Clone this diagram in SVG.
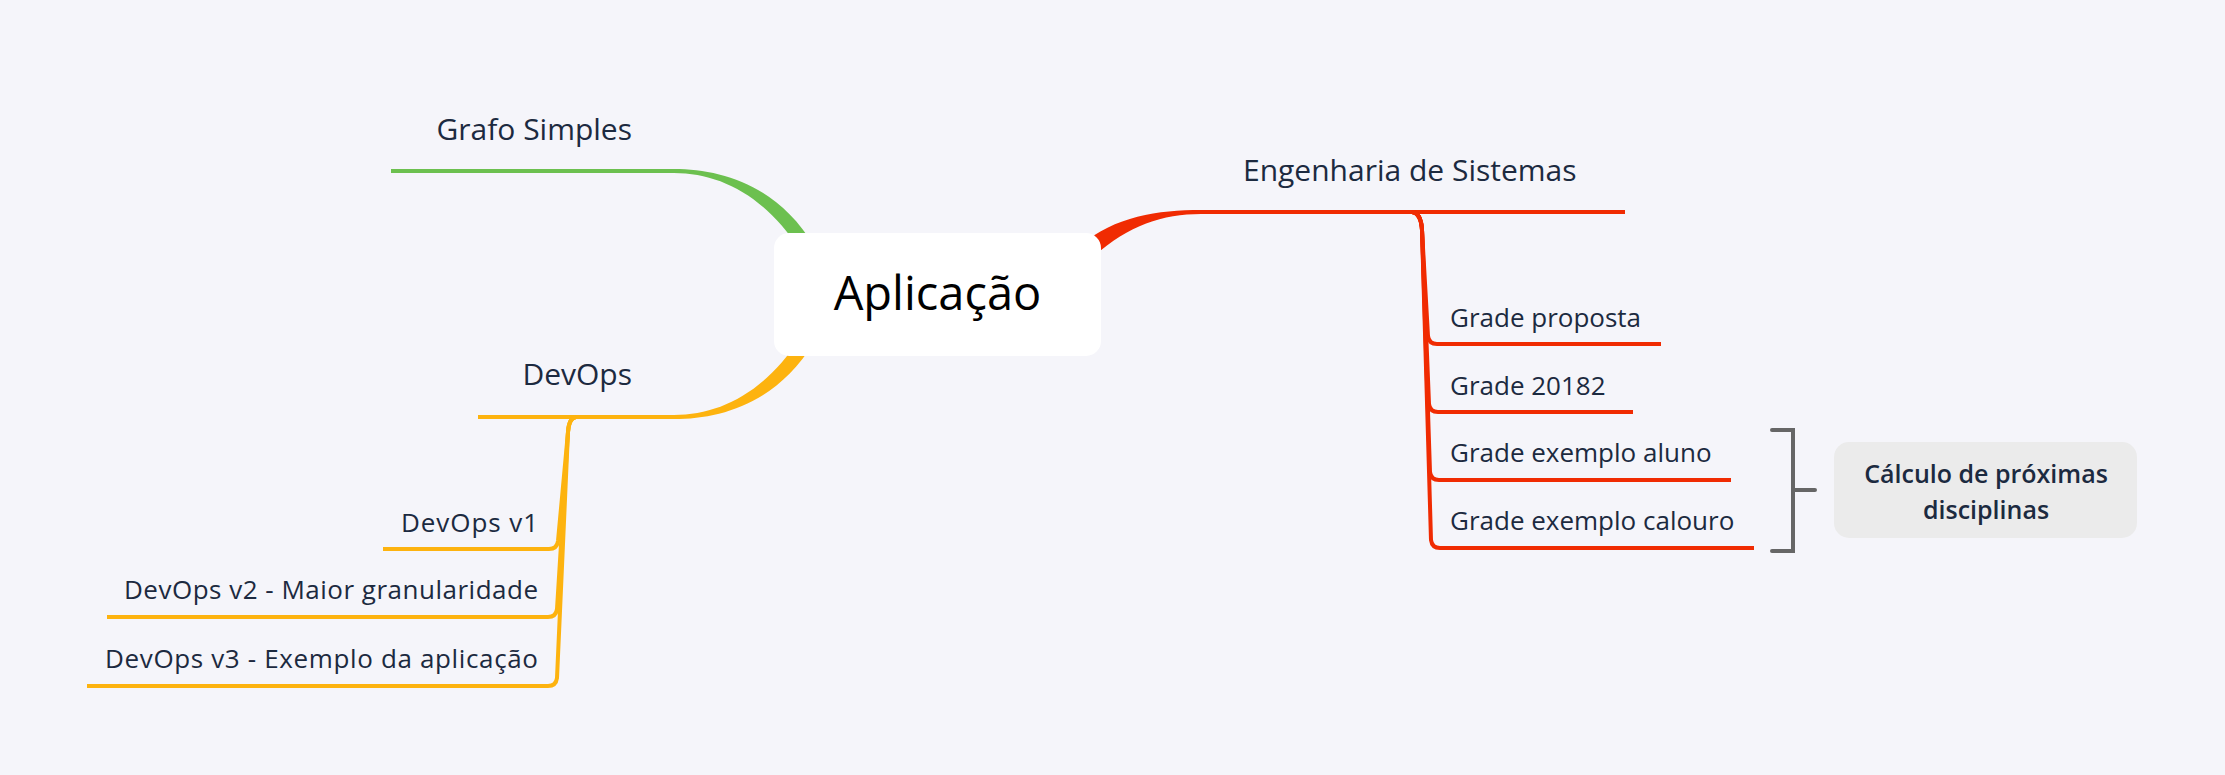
<svg xmlns="http://www.w3.org/2000/svg" width="2225" height="775" viewBox="0 0 2225 775">
<style>
.t{font-family:"Open Sans","Noto Sans","Liberation Sans",sans-serif;fill:#1c2a40}
.main{font-size:30px}
.sub{font-size:26px}
.g{stroke:#6cc04f;fill:none;stroke-width:4}
.o{stroke:#fdb30f;fill:none;stroke-width:4}
.r{stroke:#f02b02;fill:none;stroke-width:4}
</style>
<rect width="2225" height="775" fill="#f5f5fa"/>
<g id="connectors">
  <path d="M674,169 C722,169 778,186 814,246 L800,250 C765,196 720,173 674,173 Z" fill="#6cc04f"/>
  <path class="g" d="M391,171 L676,171"/>
  <path d="M674,419 C722,419 778,402 814,342 L800,338 C765,392 720,415 674,415 Z" fill="#fdb30f"/>
  <path class="o" d="M478,417 L676,417"/>
  <path d="M1080,246 C1115,216 1158,210 1201,210 L1201,214 C1162,214 1127,226 1092,258 Z" fill="#f02b02"/>
  <path class="r" d="M1199,212 L1625,212"/>
  <path class="r" d="M1412,212 Q1421,213 1422,230 L1428,336 Q1429,344 1437,344 L1661,344"/>
  <path class="r" d="M1412,212 Q1421,213 1422,230 L1429,404 Q1430,412 1438,412 L1633,412"/>
  <path class="r" d="M1412,212 Q1421,213 1422,230 L1430,472 Q1431,480 1439,480 L1731,480"/>
  <path class="r" d="M1412,212 Q1421,213 1422,230 L1431,540 Q1432,548 1440,548 L1754,548"/>
  <path class="o" d="M576,417 Q569,418 568,432 L558,541 Q557,549 549,549 L383,549"/>
  <path class="o" d="M576,417 Q569,418 568,432 L557,609 Q556,617 548,617 L107,617"/>
  <path class="o" d="M576,417 Q569,418 568,432 L557,678 Q556,686 548,686 L87,686"/>
  <path d="M1772,430 L1793,430 L1793,551 L1772,551 M1793,490 L1815,490" fill="none" stroke="#666666" stroke-width="4" stroke-linecap="round"/>
</g>
<g id="node-central">
  <rect x="774" y="233" width="327" height="123" rx="15" fill="#ffffff"/>
  <text class="t" x="937.5" y="310" font-size="47" text-anchor="middle" style="fill:#000000">Aplicação</text>
</g>
<g id="node-grafo">
  <text class="t main" x="632" y="140" text-anchor="end">Grafo Simples</text>
</g>
<g id="node-devops">
  <text class="t main" x="632" y="385" text-anchor="end">DevOps</text>
</g>
<g id="node-devops-v1">
  <text class="t sub" x="538" y="532" text-anchor="end" textLength="137">DevOps v1</text>
</g>
<g id="node-devops-v2">
  <text class="t sub" x="538" y="599" text-anchor="end" textLength="414">DevOps v2 - Maior granularidade</text>
</g>
<g id="node-devops-v3">
  <text class="t sub" x="538" y="668" text-anchor="end" textLength="433">DevOps v3 - Exemplo da aplicação</text>
</g>
<g id="node-engenharia">
  <text class="t main" x="1243" y="181">Engenharia de Sistemas</text>
</g>
<g id="node-grade-proposta">
  <text class="t sub" x="1450" y="327">Grade proposta</text>
</g>
<g id="node-grade-20182">
  <text class="t sub" x="1450" y="395">Grade 20182</text>
</g>
<g id="node-grade-aluno">
  <text class="t sub" x="1450" y="462">Grade exemplo aluno</text>
</g>
<g id="node-grade-calouro">
  <text class="t sub" x="1450" y="530">Grade exemplo calouro</text>
</g>
<g id="node-calculo">
  <rect x="1834" y="442" width="303" height="96" rx="15" fill="#ebebeb"/>
  <text class="t" x="1986" y="483" font-size="25" font-weight="600" text-anchor="middle">Cálculo de próximas</text>
  <text class="t" x="1986" y="519" font-size="25" font-weight="600" text-anchor="middle">disciplinas</text>
</g>
</svg>
